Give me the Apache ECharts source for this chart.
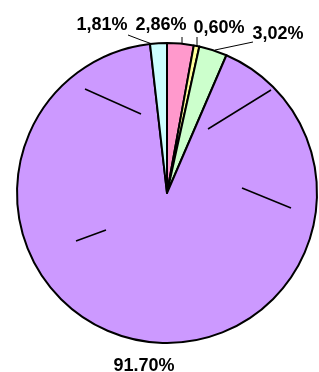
<!DOCTYPE html>
<html>
<head>
<meta charset="utf-8">
<script src="https://cdn.jsdelivr.net/npm/echarts@6/dist/echarts.min.js"></script>
<style>
  html, body { margin: 0; padding: 0; background: #fff; }
  #chart { width: 319px; height: 372px; }
</style>
</head>
<body>
<div id="chart"></div>
<script>
// slice values (percent), in clockwise order from 12 o'clock
const values = [2.86, 0.60, 3.02, 91.70, 1.81]
const labels = ['2,86%', '0,60%', '3,02%', '91.70%', '1,81%']
const colors = ['#ff99cc', '#ffff99', '#ccffcc', '#cc99ff', '#ccffff']

// where each label sits and where its leader line runs (pixels)
const labelPos = [[161, 25], [219, 28], [278, 34], [144, 366], [102, 25]]
const leaderLines = [
  [[182, 37], [182, 41], [182, 45]],
  [[197, 37], [197, 42], [197, 48]],
  [[253, 42], [234, 46], [215, 50]],
  null,
  [[128, 35], [141, 40], [155, 45]]
]

// stray strokes inside the big slice, as in the original image
const strokes = [
  [85, 89, 141, 114],
  [271, 90, 208, 129],
  [242, 188, 291, 208],
  [106, 230, 76, 241]
]

const chart = echarts.init(document.getElementById('chart'), null, { renderer: 'canvas' })

const option = {
  animation: false,
  series: [
    {
      type: 'pie',
      center: [167, 193],
      radius: [0, 150],
      startAngle: 90,
      clockwise: true,
      avoidLabelOverlap: false,
      itemStyle: {
        borderColor: '#000',
        borderWidth: 2
      },
      label: {
        show: true,
        position: 'outside',
        color: '#000',
        fontFamily: 'Liberation Sans, Arial, sans-serif',
        fontWeight: 'bold',
        fontSize: 18,
        formatter: (p) => labels[p.dataIndex]
      },
      labelLine: {
        show: true,
        lineStyle: { color: '#000', width: 1 }
      },
      labelLayout: (p) => {
        const i = p.dataIndex
        return {
          x: labelPos[i][0],
          y: labelPos[i][1],
          align: 'center',
          verticalAlign: 'middle',
          labelLinePoints: leaderLines[i] || undefined
        }
      },
      data: values.map((v, i) => ({
        value: v,
        itemStyle: { color: colors[i] },
        labelLine: { show: i !== 3 }
      }))
    }
  ],
  graphic: strokes.map((s) => ({
    type: 'line',
    shape: { x1: s[0], y1: s[1], x2: s[2], y2: s[3] },
    style: { stroke: '#000', lineWidth: 1.5 },
    z: 10
  }))
}

chart.setOption(option)
</script>
</body>
</html>
